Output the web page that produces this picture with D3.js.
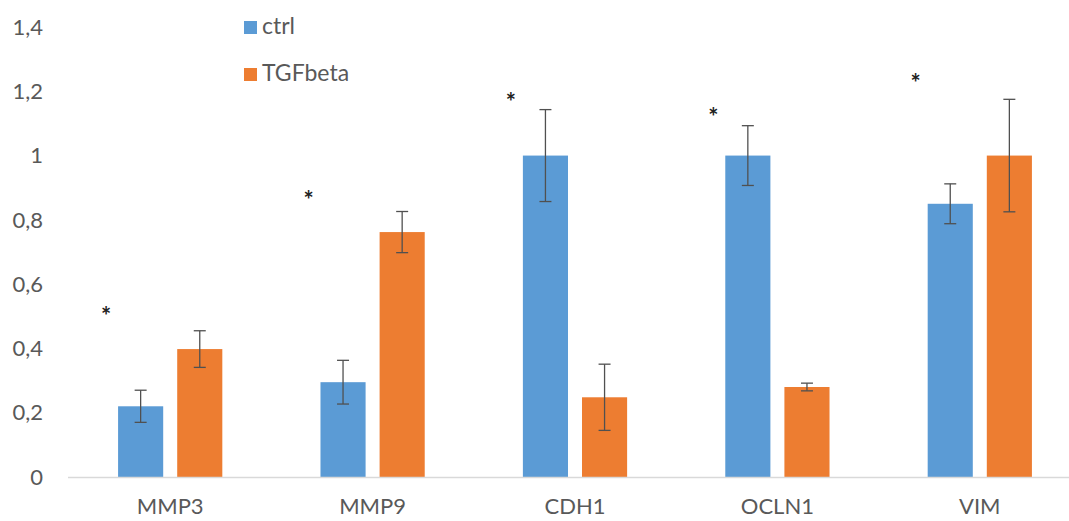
<!DOCTYPE html>
<html>
<head>
  <meta charset="utf-8">
  <script src="https://cdn.jsdelivr.net/npm/d3@7"></script>
  <style>
    body { margin: 0; background: #fff; }
    text { font-family: Lato, "Open Sans", sans-serif; fill: #595959; }
  </style>
</head>
<body>
  <script type="text/javascript">
    "use strict";

    // data
    var genes = ["MMP3", "MMP9", "CDH1", "OCLN1", "VIM"];
    var series = ["ctrl", "TGFbeta"];
    var ctrl = [0.22, 0.295, 1.0, 1.0, 0.85];
    var ctrlErr = [0.05, 0.068, 0.143, 0.093, 0.062];
    var tgf = [0.398, 0.762, 0.248, 0.28, 1.0];
    var tgfErr = [0.057, 0.064, 0.103, 0.012, 0.175];
    var starY = [0.51, 0.87, 1.175, 1.13, 1.235];
    var yTicks = [0, 0.2, 0.4, 0.6, 0.8, 1, 1.2, 1.4];
    var yTickLabels = ["0", "0,2", "0,4", "0,6", "0,8", "1", "1,2", "1,4"];
    var colors = ["#5b9bd5", "#ed7d31"];

    var width = 1069, height = 521;

    var svg = d3.select("body").append("svg")
        .attr("width", width)
        .attr("height", height);

    var y = d3.scaleLinear().domain([0, 1.4]).range([477, 27]);

    var x0 = d3.scaleBand().domain(genes)
        .range([69, 1081])
        .paddingInner(0.485)
        .paddingOuter(0.2425);

    var x1 = d3.scaleBand().domain(series)
        .range([0, x0.bandwidth()])
        .paddingInner(0.237);

    // y tick labels (no gridlines in the original)
    svg.append("g").selectAll("text")
        .data(yTicks)
        .enter().append("text")
          .attr("x", 43)
          .attr("y", function(d) { return y(d); })
          .attr("dy", "0.35em")
          .attr("text-anchor", "end")
          .style("font-size", "22px")
          .text(function(d, i) { return yTickLabels[i]; });

    var rows = genes.map(function(g, i) {
      return [
        { gene: g, s: "ctrl", v: ctrl[i], e: ctrlErr[i], c: colors[0] },
        { gene: g, s: "TGFbeta", v: tgf[i], e: tgfErr[i], c: colors[1] }
      ];
    });

    var groups = svg.append("g").selectAll("g")
        .data(rows)
        .enter().append("g")
          .attr("transform", function(d) { return "translate(" + x0(d[0].gene) + ",0)"; });

    groups.selectAll("rect")
        .data(function(d) { return d; })
        .enter().append("rect")
          .attr("x", function(d) { return x1(d.s); })
          .attr("y", function(d) { return y(d.v); })
          .attr("width", x1.bandwidth())
          .attr("height", function(d) { return y(0) - y(d.v); })
          .attr("fill", function(d) { return d.c; });

    // error bars
    var eb = groups.selectAll("g.err")
        .data(function(d) { return d; })
        .enter().append("g")
          .attr("class", "err")
          .attr("stroke", "#505050")
          .attr("stroke-width", 1.3);

    eb.append("line")
        .attr("x1", function(d) { return x1(d.s) + x1.bandwidth() / 2; })
        .attr("x2", function(d) { return x1(d.s) + x1.bandwidth() / 2; })
        .attr("y1", function(d) { return y(d.v + d.e); })
        .attr("y2", function(d) { return y(d.v - d.e); });
    eb.append("line")
        .attr("x1", function(d) { return x1(d.s) + x1.bandwidth() / 2 - 6; })
        .attr("x2", function(d) { return x1(d.s) + x1.bandwidth() / 2 + 6; })
        .attr("y1", function(d) { return y(d.v + d.e); })
        .attr("y2", function(d) { return y(d.v + d.e); });
    eb.append("line")
        .attr("x1", function(d) { return x1(d.s) + x1.bandwidth() / 2 - 6; })
        .attr("x2", function(d) { return x1(d.s) + x1.bandwidth() / 2 + 6; })
        .attr("y1", function(d) { return y(d.v - d.e); })
        .attr("y2", function(d) { return y(d.v - d.e); });

    // significance stars
    svg.append("g").selectAll("text")
        .data(genes)
        .enter().append("text")
          .attr("x", function(d) { return x0(d) - 12; })
          .attr("y", function(d, i) { return y(starY[i]) + 12; })
          .attr("text-anchor", "middle")
          .style("font-size", "24px")
          .style("font-weight", "bold")
          .style("fill", "#222")
          .text("*");

    // x axis line
    svg.append("line")
        .attr("x1", 68).attr("x2", width)
        .attr("y1", y(0) + 0.5).attr("y2", y(0) + 0.5)
        .attr("stroke", "#d9d9d9")
        .attr("stroke-width", 1.5);

    svg.append("g").selectAll("text")
        .data(genes)
        .enter().append("text")
          .attr("x", function(d) { return x0(d) + x0.bandwidth() / 2; })
          .attr("y", 514)
          .attr("text-anchor", "middle")
          .style("font-size", "22px")
          .text(function(d) { return d; });

    // legend
    var leg = svg.append("g").selectAll("g")
        .data(series)
        .enter().append("g")
          .attr("transform", function(d, i) { return "translate(244," + (21 + i * 47) + ")"; });
    leg.append("rect")
        .attr("width", 13).attr("height", 13)
        .attr("fill", function(d, i) { return colors[i]; });
    leg.append("text")
        .attr("x", 18).attr("y", 13)
        .style("font-size", "23px")
        .text(function(d) { return d; });
  </script>
</body>
</html>
